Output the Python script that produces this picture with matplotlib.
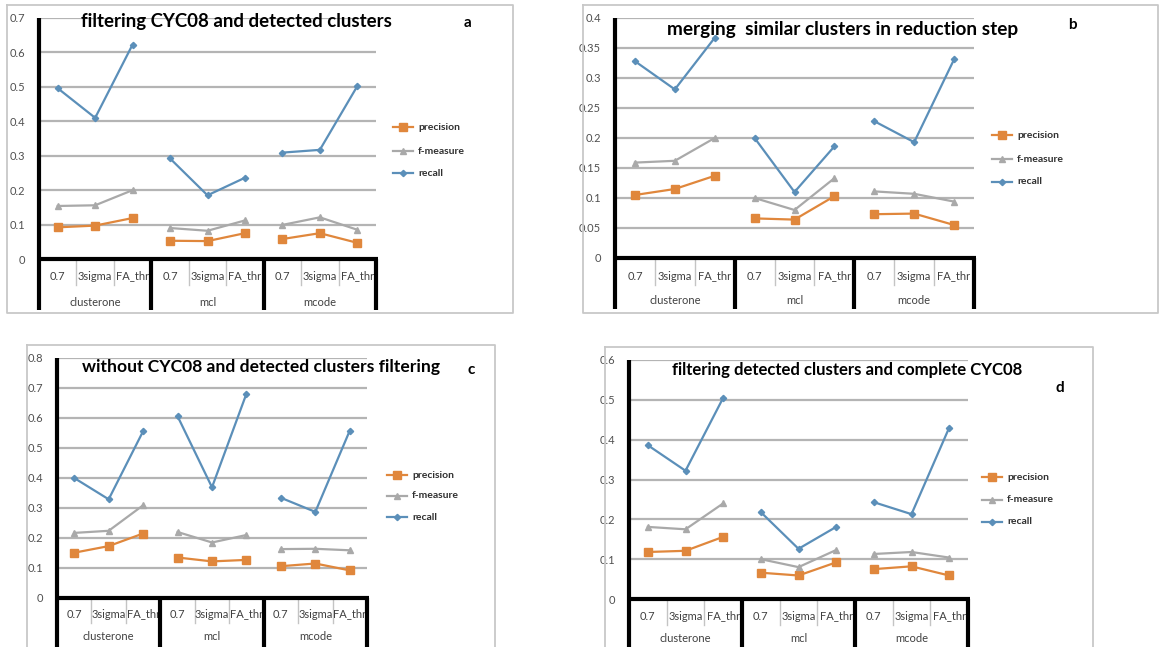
import matplotlib
matplotlib.use("Agg")
import matplotlib.pyplot as plt
import matplotlib.transforms as mtransforms
from matplotlib.lines import Line2D

plt.rcParams['font.family'] = ['Lato', 'DejaVu Sans']

W, H = 1161, 647

# x categories (shared by all four panels)
methods = ['clusterone', 'mcl', 'mcode']
thresholds = ['0.7', '3sigma', 'FA_thr']
series_names = ['precision', 'f-measure', 'recall']

# panel a: filtering CYC08 and detected clusters
a_precision = [0.092, 0.097, 0.119, 0.053, 0.052, 0.075, 0.058, 0.075, 0.047]
a_fmeasure = [0.154, 0.156, 0.200, 0.090, 0.082, 0.112, 0.099, 0.121, 0.085]
a_recall = [0.496, 0.410, 0.623, 0.292, 0.185, 0.236, 0.309, 0.317, 0.502]
a_yticks = [0, 0.1, 0.2, 0.3, 0.4, 0.5, 0.6, 0.7]

# panel b: merging similar clusters in reduction step
b_precision = [0.105, 0.115, 0.137, 0.066, 0.064, 0.103, 0.073, 0.074, 0.055]
b_fmeasure = [0.159, 0.162, 0.200, 0.100, 0.080, 0.133, 0.111, 0.107, 0.094]
b_recall = [0.328, 0.281, 0.367, 0.200, 0.110, 0.186, 0.228, 0.193, 0.331]
b_yticks = [0, 0.05, 0.1, 0.15, 0.2, 0.25, 0.3, 0.35, 0.4]

# panel c: without CYC08 and detected clusters filtering
c_precision = [0.151, 0.173, 0.215, 0.135, 0.122, 0.127, 0.106, 0.115, 0.092]
c_fmeasure = [0.217, 0.224, 0.309, 0.220, 0.185, 0.210, 0.163, 0.164, 0.159]
c_recall = [0.400, 0.329, 0.556, 0.606, 0.369, 0.681, 0.334, 0.287, 0.558]
c_yticks = [0, 0.1, 0.2, 0.3, 0.4, 0.5, 0.6, 0.7, 0.8]

# panel d: filtering detected clusters and complete CYC08
d_precision = [0.118, 0.121, 0.156, 0.066, 0.059, 0.092, 0.075, 0.082, 0.059]
d_fmeasure = [0.181, 0.175, 0.240, 0.100, 0.080, 0.123, 0.113, 0.118, 0.104]
d_recall = [0.386, 0.322, 0.505, 0.218, 0.126, 0.181, 0.243, 0.213, 0.430]
d_yticks = [0, 0.1, 0.2, 0.3, 0.4, 0.5, 0.6]

COLORS = {'precision': '#E0873C', 'f-measure': '#A9A9A9', 'recall': '#5B8FB9'}
MARKERS = {'precision': ('s', 5.5), 'f-measure': ('^', 5), 'recall': ('D', 3.2)}
AXIS_LW = 3.0


def fx(px):
    return px / W


def fy(py):
    return 1 - py / H


def black_line(fig, xs, ys):
    # thick black frame line of the excel category axis, in figure pixels
    fig.add_artist(Line2D([fx(x) for x in xs], [fy(y) for y in ys], color='black',
                          lw=AXIS_LW, solid_capstyle='butt', zorder=10))


def draw_panel(fig, lay, title, letter, yticks, values):
    # lay holds pixel positions
    left, right, y0, ytop = lay['left'], lay['right'], lay['y0'], lay['ytop']
    ph = y0 - ytop
    # gray frame around the chart
    bx0, by0, bx1, by1 = lay['box']
    fig.add_artist(Line2D([fx(bx0), fx(bx1), fx(bx1), fx(bx0), fx(bx0)],
                          [fy(by0), fy(by0), fy(by1), fy(by1), fy(by0)],
                          color='#C8C8C8', lw=1.3))
    ax = fig.add_axes([fx(left), fy(y0), (right - left) / W, ph / H])
    ax.patch.set_alpha(0)
    ax.set_xlim(-0.5, 8.5)
    ax.set_ylim(0, yticks[-1])
    for s in ax.spines.values():
        s.set_visible(False)
    ax.set_xticks([])
    ax.set_yticks(yticks)
    ax.set_yticklabels(['{:g}'.format(t) for t in yticks], fontsize=8, color='#505050')
    ax.tick_params(axis='y', length=0, pad=10)
    for t in yticks[1:]:
        ax.axhline(t, color='#B4B4B4', lw=1.6, zorder=1)

    # each method group is its own line segment
    for name, vals in zip(series_names, values):
        m, ms = MARKERS[name]
        for g in range(3):
            xs = [3 * g, 3 * g + 1, 3 * g + 2]
            ax.plot(xs, vals[3 * g:3 * g + 3], color=COLORS[name], lw=1.6, marker=m,
                    ms=ms, zorder=4)

    # category axis under the plot
    tr = mtransforms.blended_transform_factory(ax.transData, ax.transAxes)
    r1 = -(lay['cat1'] - y0) / ph
    r2 = -(lay['cat2'] - y0) / ph
    sub_bot = -(lay['cat1'] + 9 - y0) / ph
    catbot = lay['catbot']
    black_line(fig, [left, right + 2], [y0, y0])
    black_line(fig, [left, left], [ytop, catbot])
    step = (right - left) / 9.0
    for g in range(3):
        xg = left + step * (3 * g + 3)
        black_line(fig, [xg, xg], [y0, catbot])
        for k in (0.5, 1.5):
            xk = 3 * g + k
            ax.plot([xk, xk], [sub_bot, 0], transform=tr, color='#C4C4C4', lw=1, clip_on=False)
        ax.text(3 * g + 1, r2, methods[g], transform=tr, ha='center', va='center',
                fontsize=8, color='#404040')
        for k in range(3):
            ax.text(3 * g + k, r1, thresholds[k], transform=tr, ha='center', va='center',
                    fontsize=8, color='#404040')

    fig.text(fx(lay['title'][0]), fy(lay['title'][1]), title, ha='center', va='center',
             fontsize=lay['tsize'], fontweight='bold', color='black')
    fig.text(fx(lay['letter'][0]), fy(lay['letter'][1]), letter, ha='center', va='center',
             fontsize=11, fontweight='bold', color='black')

    lx = lay['legx']
    for name, ly in zip(series_names, lay['legy']):
        m, ms = MARKERS[name]
        fig.add_artist(Line2D([fx(lx), fx(lx + 20)], [fy(ly), fy(ly)], color=COLORS[name],
                              lw=1.6))
        fig.add_artist(Line2D([fx(lx + 10)], [fy(ly)], color=COLORS[name], marker=m, ms=ms,
                              lw=0))
        fig.text(fx(lx + 25), fy(ly), name, ha='left', va='center', fontsize=7.5,
                 fontweight='bold', color='#303030')
    return ax


fig = plt.figure(figsize=(W / 100, H / 100), dpi=100)
fig.patch.set_facecolor('white')

lay_a = dict(left=39, right=376, y0=259, ytop=18, cat1=276, cat2=302, catbot=310,
             box=(7, 5, 513, 313), title=(236, 22), tsize=13.4, letter=(468, 23),
             legx=393, legy=(127, 151, 173))
lay_b = dict(left=615, right=974, y0=258, ytop=18, cat1=276, cat2=301, catbot=309,
             box=(583, 5, 1158, 313), title=(843, 29), tsize=13.7, letter=(1072, 25),
             legx=992, legy=(135, 159, 182))
lay_c = dict(left=57, right=367, y0=598, ytop=358, cat1=614, cat2=636, catbot=650,
             box=(27, 345, 495, 660), title=(261, 367), tsize=12.6, letter=(471, 370),
             legx=387, legy=(475, 496, 517))
lay_d = dict(left=629, right=968, y0=599, ytop=360, cat1=616, cat2=638, catbot=650,
             box=(605, 347, 1093, 660), title=(847, 370), tsize=12.1, letter=(1060, 388),
             legx=982, legy=(477, 500, 522))

draw_panel(fig, lay_a, 'filtering CYC08 and detected clusters', 'a', a_yticks,
           [a_precision, a_fmeasure, a_recall])
draw_panel(fig, lay_b, 'merging  similar clusters in reduction step', 'b', b_yticks,
           [b_precision, b_fmeasure, b_recall])
draw_panel(fig, lay_c, 'without CYC08 and detected clusters filtering', 'c', c_yticks,
           [c_precision, c_fmeasure, c_recall])
draw_panel(fig, lay_d, 'filtering detected clusters and complete CYC08', 'd', d_yticks,
           [d_precision, d_fmeasure, d_recall])

fig.savefig('out.png', dpi=100, facecolor='white')
